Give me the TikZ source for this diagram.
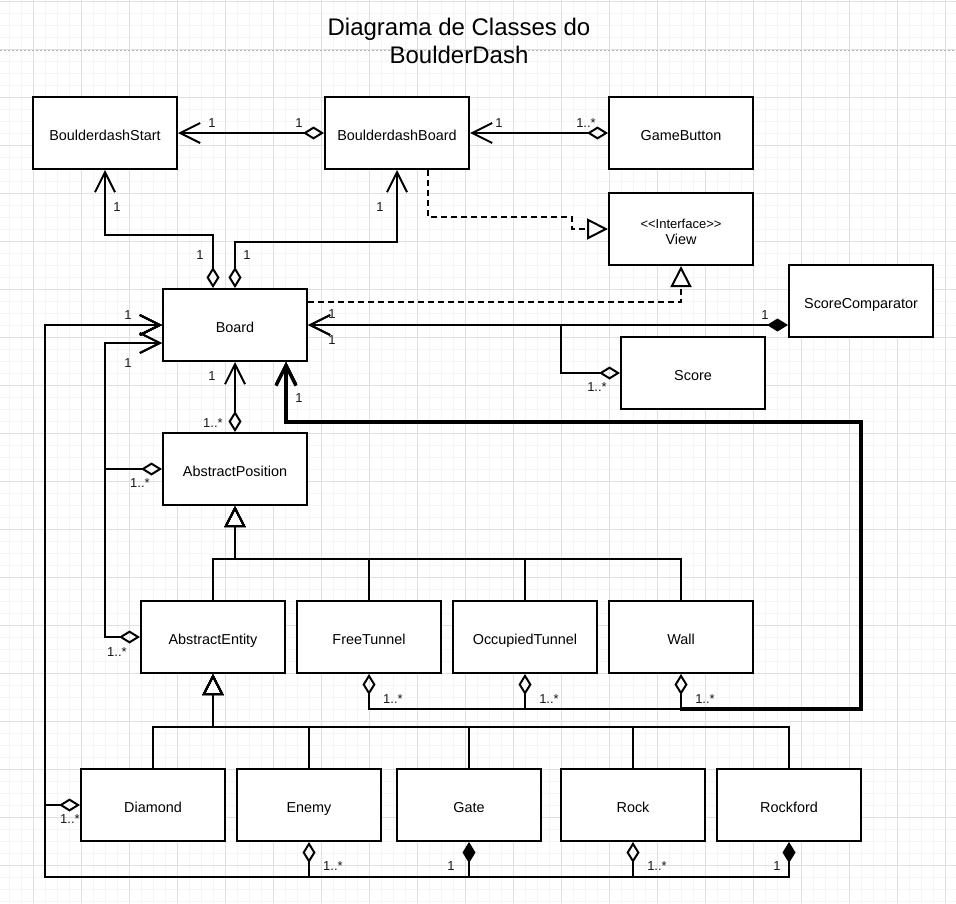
\documentclass[tikz,border=0pt]{standalone}
\usepackage{fontspec}
\setmainfont{Liberation Sans}
\usetikzlibrary{arrows.meta}
\tikzset{
  ln/.style={line width=1.5pt},
  boxbase/.style={draw, line width=1.5pt, fill=white, minimum width=108pt, minimum height=54pt,
    inner sep=0pt, align=center, font=\fontsize{10.8pt}{13.5pt}\selectfont},
  box/.style={boxbase, text height=11pt, text depth=0.3pt},
  lbl/.style={inner sep=0pt, font=\fontsize{9.75pt}{11pt}\selectfont, text=black!90},
  assoc/.style={ln, {Diamond[open,length=15.75pt,width=9.75pt]}-{Straight Barb[length=15pt,width=15pt]}},
  comp/.style={ln, {Diamond[length=15.75pt,width=9.75pt]}-{Straight Barb[length=15pt,width=15pt]}},
  gen/.style={ln, -{Triangle[open,length=15.75pt,width=15.75pt]}},
  real/.style={gen, dash pattern=on 4.5pt off 3pt},
  minorgrid/.style={line width=0.75pt, color=black!4},
  majorgrid/.style={line width=0.75pt, color=black!12},
}
\begin{document}
\begin{tikzpicture}[x=0.75pt,y=-0.75pt]
\useasboundingbox (0,0) rectangle (956,903);
\fill[white] (0,0) rectangle (956,903);
% grid
\foreach \k in {0,...,78} {\draw[minorgrid] ({9.3+12*\k},0) -- ({9.3+12*\k},903);}
\foreach \k in {0,...,75} {\draw[minorgrid] (0,{1+12*\k}) -- (956,{1+12*\k});}
\foreach \k in {0,...,19} {\draw[majorgrid] ({33.3+48*\k},0) -- ({33.3+48*\k},903);}
\foreach \k in {0,...,18} {\draw[majorgrid] (0,{1+48*\k}) -- (956,{1+48*\k});}
\draw[black!30, line width=0.75pt, dash pattern=on 1.5pt off 1.5pt] (0,50) -- (956,50);

% title
\node[align=center, inner sep=0pt, font=\fontsize{18pt}{21pt}\selectfont] (title) at (459,41) {Diagrama de Classes do\\BoulderDash};

% classes
\node[box] (start)  at (105,133) {BoulderdashStart};
\node[box] (bboard) at (397,133) {BoulderdashBoard};
\node[box] (gbtn)   at (681,133) {GameButton};
\node[boxbase, font=\fontsize{9.75pt}{12.5pt}\selectfont] (view) at (681,229) {\rule{0pt}{11.5pt}<\kern0pt<Interface>\kern0pt>\\\fontsize{10.8pt}{12.5pt}\selectfont View};
\node[box] (board)  at (235,325) {Board};
\node[box] (scomp)  at (861,301) {ScoreComparator};
\node[box] (score)  at (693,373) {Score};
\node[box] (apos)   at (235,469) {AbstractPosition};
\node[box] (aent)   at (213,637) {AbstractEntity};
\node[box] (ftun)   at (369,637) {FreeTunnel};
\node[box] (otun)   at (525,637) {OccupiedTunnel};
\node[box] (wall)   at (681,637) {Wall};
\node[box] (diam)   at (153,805) {Diamond};
\node[box] (enemy)  at (309,805) {Enemy};
\node[box] (gate)   at (469,805) {Gate};
\node[box] (rock)   at (633,805) {Rock};
\node[box] (rford)  at (789,805) {Rockford};

% top associations
\draw[assoc] (bboard.west) -- (start.east);
\draw[assoc] (gbtn.west) -- (bboard.east);
\draw[assoc] (board.north -| 213,0) -- (213,235) -- (105,235) -- (start.south);
\draw[assoc] (board.north) -- (235,242) -- (397,242) -- (bboard.south);

% realizations
\draw[real] (bboard.south -| 428,0) -- (428,217) -- (572,217) -- (572,229) -- (view.west);
\draw[real] (board.east |- 0,302) -- (681,302) -- (view.south);

% score comparator / score
\draw[comp] (scomp.west |- 0,325) -- (board.east);
\draw[assoc] (score.west) -- (561,373) -- (561,325) -- (board.east);

% tunnels and wall to board
\draw[assoc] (ftun.south) -- (369,709) -- (861,709) -- (861,422) -- (286,422) -- (board.south -| 286,0);
\draw[assoc] (otun.south) -- (525,709) -- (861,709) -- (861,422) -- (286,422) -- (board.south -| 286,0);
\draw[assoc] (wall.south) -- (681,709) -- (861,709) -- (861,422) -- (286,422) -- (board.south -| 286,0);
\draw[line width=2.5pt, -{Straight Barb[length=15pt,width=15pt]}] (680,709) -- (861,709) -- (861,422) -- (286,422) -- (board.south -| 286,0);

% abstract position / entity to board
\draw[assoc] (apos.north) -- (board.south);
\draw[assoc] (apos.west) -- (105,469) -- (105,343) -- (board.west |- 0,343);
\draw[assoc] (aent.west) -- (105,637) -- (105,343) -- (board.west |- 0,343);

% generalizations
\draw[gen] (aent.north) -- (213,559) -- (235,559) -- (apos.south);
\draw[gen] (ftun.north) -- (369,559) -- (235,559) -- (apos.south);
\draw[gen] (otun.north) -- (525,559) -- (235,559) -- (apos.south);
\draw[gen] (wall.north) -- (681,559) -- (235,559) -- (apos.south);
\draw[gen] (diam.north) -- (153,727) -- (213,727) -- (aent.south);
\draw[gen] (enemy.north) -- (309,727) -- (213,727) -- (aent.south);
\draw[gen] (gate.north) -- (469,727) -- (213,727) -- (aent.south);
\draw[gen] (rock.north) -- (633,727) -- (213,727) -- (aent.south);
\draw[gen] (rford.north) -- (789,727) -- (213,727) -- (aent.south);

% outer loop to board
\draw[assoc] (diam.west) -- (45,805) -- (45,325) -- (board.west);
\draw[assoc] (enemy.south) -- (309,877) -- (45,877) -- (45,325) -- (board.west);
\draw[comp] (gate.south) -- (469,877) -- (45,877) -- (45,325) -- (board.west);
\draw[assoc] (rock.south) -- (633,877) -- (45,877) -- (45,325) -- (board.west);
\draw[comp] (rford.south) -- (789,877) -- (45,877) -- (45,325) -- (board.west);

% multiplicity labels
\node[lbl] (l1)  at (212,123) {1};
\node[lbl] (l2)  at (299,123) {1};
\node[lbl] (l3)  at (499,123) {1};
\node[lbl] (l4)  at (586,123) {1..*};
\node[lbl] (l5)  at (117,207) {1};
\node[lbl] (l6)  at (200,255) {1};
\node[lbl] (l7)  at (380,207) {1};
\node[lbl] (l8)  at (247,255) {1};
\node[lbl] (l9)  at (765,315) {1};
\node[lbl] (l10) at (332,314) {1};
\node[lbl] (l11) at (332,340) {1};
\node[lbl] (l12) at (597,387) {1..*};
\node[lbl] (l13) at (299,398) {1};
\node[lbl] (l14) at (212,376) {1};
\node[lbl] (l15) at (213,423) {1..*};
\node[lbl] (l16) at (128,315) {1};
\node[lbl] (l17) at (128,363) {1};
\node[lbl] (l18) at (140,483) {1..*};
\node[lbl] (l19) at (117,652) {1..*};
\node[lbl] (l20) at (393,699) {1..*};
\node[lbl] (l21) at (549,699) {1..*};
\node[lbl] (l22) at (705,699) {1..*};
\node[lbl] (l23) at (70,819) {1..*};
\node[lbl] (l24) at (333,866) {1..*};
\node[lbl] (l25) at (451,866) {1};
\node[lbl] (l26) at (657,866) {1..*};
\node[lbl] (l27) at (777,866) {1};
\end{tikzpicture}
\end{document}
